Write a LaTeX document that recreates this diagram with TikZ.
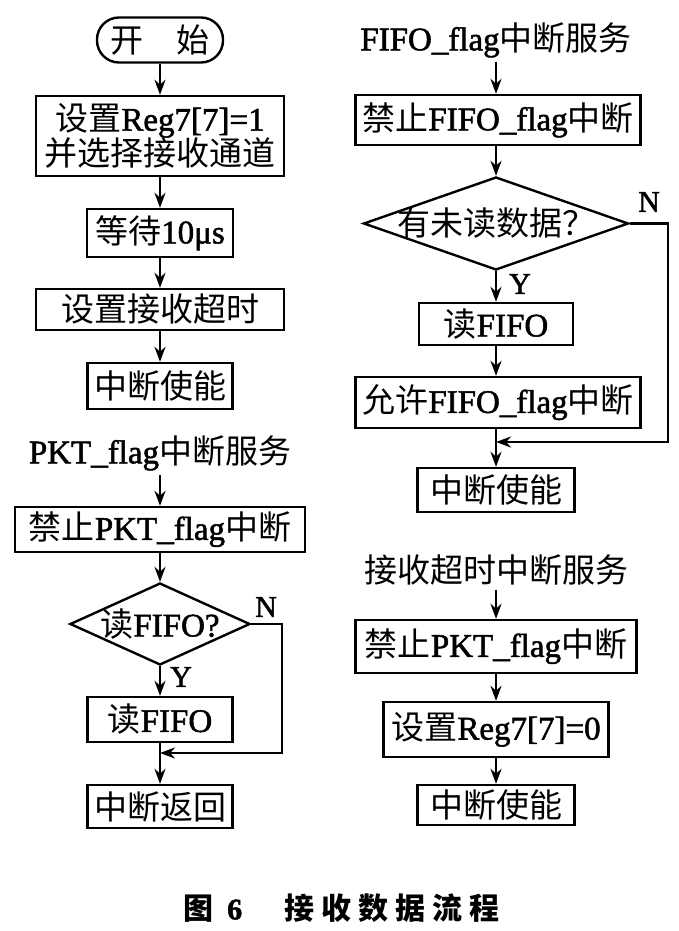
\documentclass[tikz,border=0pt]{standalone}
\usepackage{fontspec}
\setmainfont{Liberation Serif}[RawFeature={embolden=1.6}]
\newfontfamily\cjk{Noto Sans CJK SC}
\usetikzlibrary{arrows.meta,shapes.geometric}
\tikzset{
	x=1pt, y=-1pt, % one unit per pixel of the scan
	>={Stealth[length=15pt,width=11pt]}, % bold filled heads
	box/.style={draw, rectangle, inner sep=0pt, align=center, font=\fontsize{33}{35}\selectfont},
	terminal/.style={box, rounded corners=22pt},
	test/.style={draw, diamond, inner sep=0pt},
	title/.style={inner sep=3pt, font=\fontsize{33}{35}\selectfont},
	yn/.style={font=\fontsize{30}{30}\selectfont},
}
\begin{document}
\begin{tikzpicture}[line width=2.4pt]
	\useasboundingbox (0,0) rectangle (678,931);
	% main routine
	\node[terminal, minimum width=126, minimum height=45] (start) at (160,40) {{\cjk 开　始}};
	\node[box, minimum width=248, minimum height=80] (set1) at (160,136) {{\cjk 设置}Reg7[7]=1\\{\cjk 并选择接收通道}};
	\node[box, minimum width=146, minimum height=48] (wait) at (160,233) {{\cjk 等待}10μs};
	\node[box, minimum width=248, minimum height=41] (tout) at (160,309.5) {{\cjk 设置接收超时}};
	\node[box, minimum width=145, minimum height=46] (ien1) at (160,386) {{\cjk 中断使能}};

	\draw[->] (start) -- (set1);
	\draw[->] (set1) -- (wait);
	\draw[->] (wait) -- (tout);
	\draw[->] (tout) -- (ien1);

	% PKT_flag service
	\node[title] (pkt) at (160,453) {PKT\_flag{\cjk 中断服务}};
	\node[box, minimum width=290, minimum height=45] (pdis) at (160,529.5) {{\cjk 禁止}PKT\_flag{\cjk 中断}};
	\node[test, minimum width=180, minimum height=82, label={[font=\fontsize{33}{35}\selectfont]center:{\cjk 读}FIFO?}] (pchk) at (160,624) {};
	\node[box, minimum width=145, minimum height=45] (pread) at (160,719.5) {{\cjk 读}FIFO};
	\node[box, minimum width=145, minimum height=43] (pret) at (160,806.5) {{\cjk 中断返回}};
	\coordinate (pjoin) at (160,753);
	\node[yn] (py) at (181,677) {Y};
	\node[yn] (pn) at (266,607) {N};

	\draw[->] (pkt) -- (pdis);
	\draw[->] (pdis) -- (pchk);
	\draw[->] (pchk) -- (pread);
	\draw[->] (pread) -- (pret);
	\draw[->] (pchk.east) -- ++(31,0) |- (pjoin);

	% FIFO_flag service
	\node[title] (fifo) at (496,40) {FIFO\_flag{\cjk 中断服务}};
	\node[box, minimum width=285, minimum height=50] (fdis) at (498,120) {{\cjk 禁止}FIFO\_flag{\cjk 中断}};
	\node[test, minimum width=265, minimum height=93, label={[font=\fontsize{33}{35}\selectfont]center:{\cjk 有未读数据？}}] (fchk) at (496,223.5) {};
	\node[box, minimum width=154, minimum height=42] (fread) at (496,324) {{\cjk 读}FIFO};
	\node[box, minimum width=285, minimum height=51] (fen) at (498,402.5) {{\cjk 允许}FIFO\_flag{\cjk 中断}};
	\node[box, minimum width=157, minimum height=44] (ien2) at (496,490) {{\cjk 中断使能}};
	\coordinate (fjoin) at (496,442);
	\node[yn] (fy) at (520,284) {Y};
	\node[yn] (fn) at (649,202) {N};

	\draw[->] (fifo) -- (fdis.north -| fifo);
	\draw[->] (fifo |- fdis.south) -- (fchk);
	\draw[->] (fchk) -- (fread);
	\draw[->] (fread) -- (fread |- fen.north);
	\draw[->] (fread |- fen.south) -- (ien2);
	\draw[->] (fchk.east) -- ++(38,0) |- (fjoin);

	% receive timeout service
	\node[title] (rto) at (496,570) {{\cjk 接收超时中断服务}};
	\node[box, minimum width=281, minimum height=53] (tdis) at (496,646.5) {{\cjk 禁止}PKT\_flag{\cjk 中断}};
	\node[box, minimum width=225, minimum height=55] (set0) at (496,729.5) {{\cjk 设置}Reg7[7]=0};
	\node[box, minimum width=157, minimum height=40] (ien3) at (496,805) {{\cjk 中断使能}};

	\draw[->] (rto) -- (tdis);
	\draw[->] (tdis) -- (set0);
	\draw[->] (set0) -- (ien3);

	% caption
	\node[anchor=west, inner sep=0pt, font=\fontsize{30}{30}\selectfont\bfseries] (cap) at (182,908)
		{{\cjk 图}\hspace{14pt}6\hspace{42pt}{\cjk 接\hspace{7pt}收\hspace{7pt}数\hspace{7pt}据\hspace{7pt}流\hspace{7pt}程}};
\end{tikzpicture}
\end{document}
